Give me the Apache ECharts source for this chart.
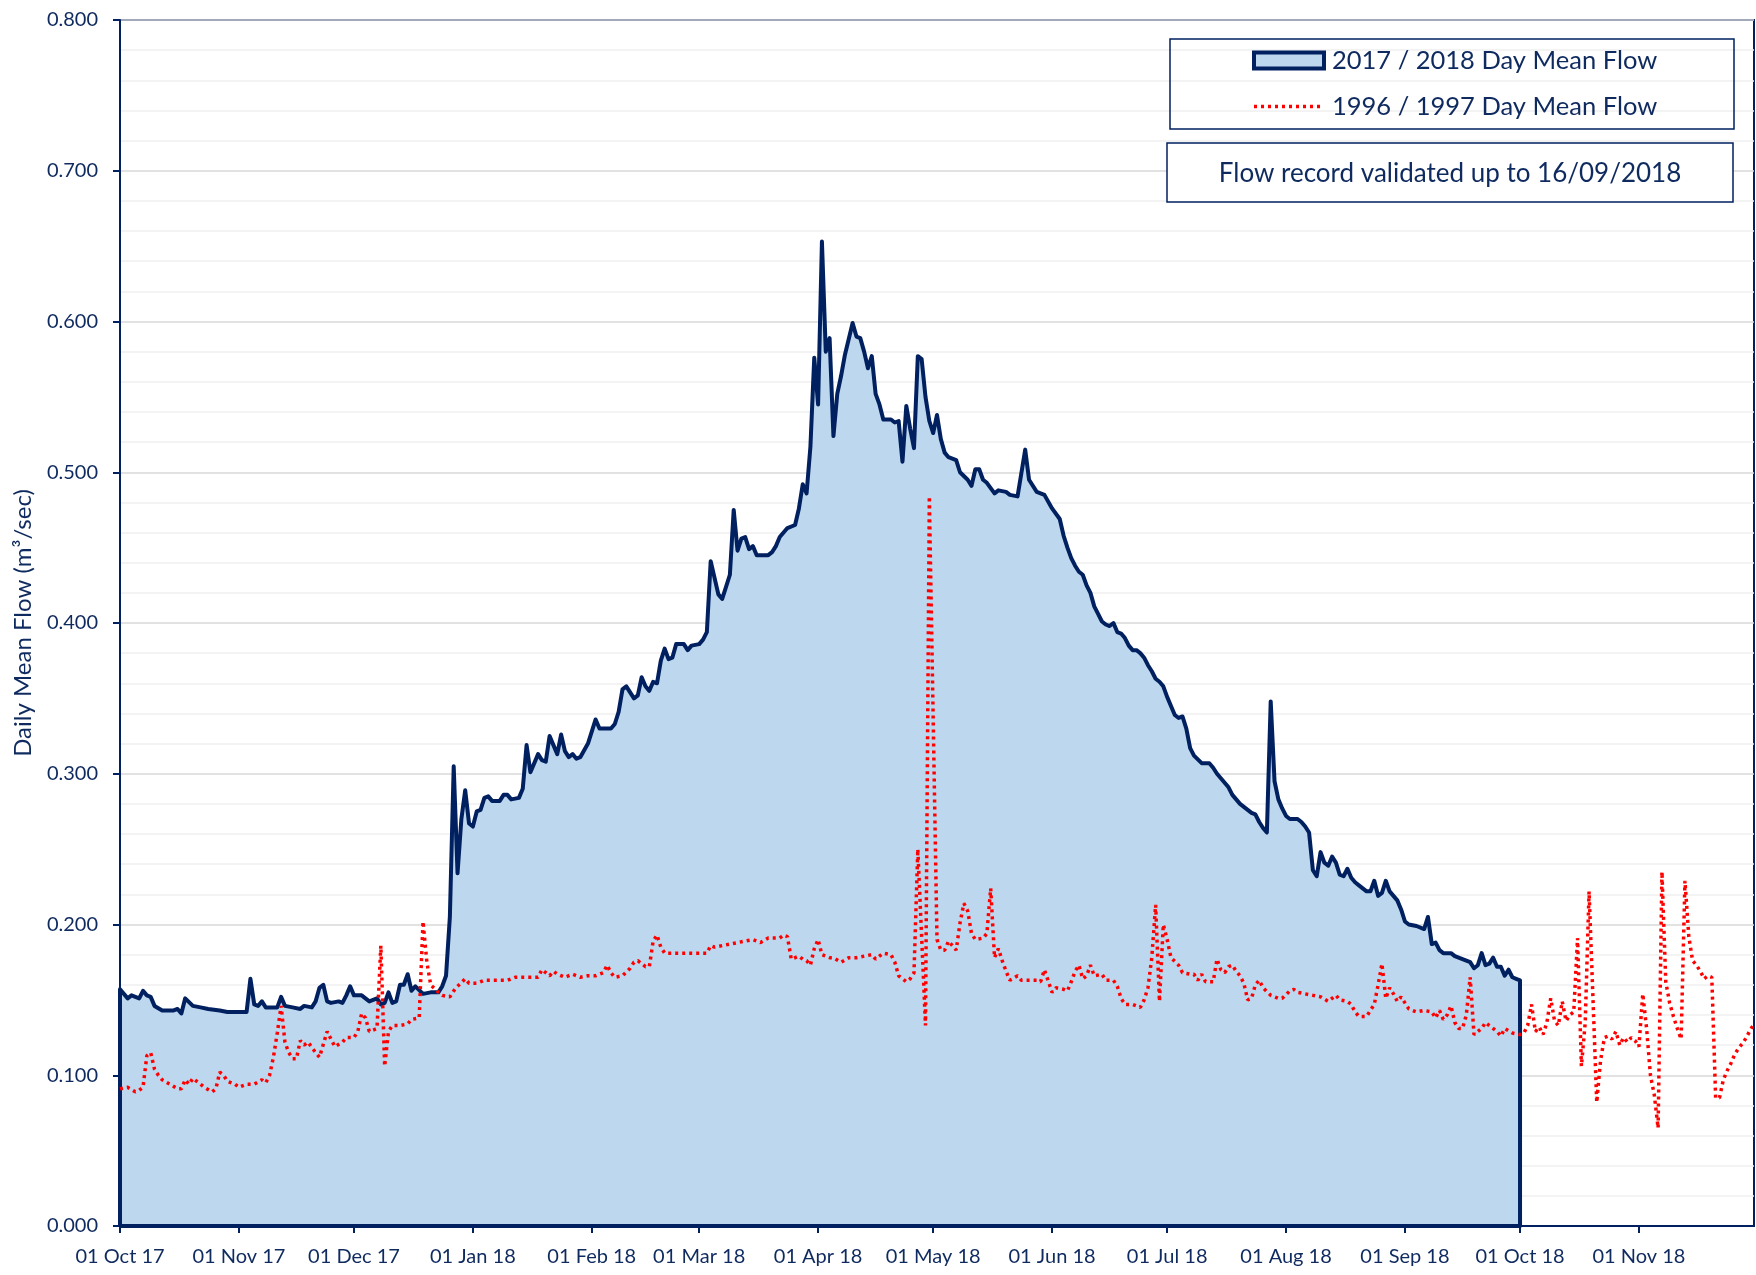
<!DOCTYPE html>
<html>
<head>
<meta charset="utf-8">
<script src="https://cdn.jsdelivr.net/npm/echarts@6/dist/echarts.min.js"></script>
<style>
html,body{margin:0;padding:0;background:#ffffff;}
#chart{width:1756px;height:1275px;}
</style>
</head>
<body>
<div id="chart"></div>
<script>
// ---------- DATA ----------
const startDate = '2017-10-01';
const endDate = '2018-12-01';

const tickDates = ['2017-10-01','2017-11-01','2017-12-01','2018-01-01','2018-02-01','2018-03-01','2018-04-01',
  '2018-05-01','2018-06-01','2018-07-01','2018-08-01','2018-09-01','2018-10-01','2018-11-01'];
const tickLabels = ['01 Oct 17','01 Nov 17','01 Dec 17','01 Jan 18','01 Feb 18','01 Mar 18','01 Apr 18',
  '01 May 18','01 Jun 18','01 Jul 18','01 Aug 18','01 Sep 18','01 Oct 18','01 Nov 18'];

// 2017 / 2018 day mean flow: day offset from 01 Oct 2017, value (m3/sec)
const flow2018Days = [
  0,2,3,5,6,7,8,9,11,14,
  15,16,17,19,21,23,26,28,33,34,
  35,36,37,38,41,42,43,45,47,48,
  50,51,52,53,54,55,57,58,59,60,
  61,63,65,67,68,69,70,71,72,73,
  74,75,76,77,79,81,83,84,85,86,
  87,88,89,90,91,92,93,94,95,96,
  97,99,100,101,102,104,105,106,107,109,
  110,111,112,113,114,115,116,117,118,119,
  120,122,124,125,128,129,130,131,132,134,
  135,136,137,138,139,140,141,142,143,144,
  145,147,148,149,151,152,153,154,156,157,
  158,159,160,161,162,163,164,165,166,169,
  170,171,172,174,176,177,178,179,180,181,
  182,183,184,185,186,187,188,189,191,192,
  193,194,195,196,197,198,199,201,202,203,
  204,205,206,207,208,209,210,211,212,213,
  214,215,216,218,219,221,222,223,224,225,
  226,228,229,231,232,234,236,237,239,241,
  243,245,246,247,248,249,250,251,252,253,
  254,255,256,257,258,259,260,261,262,263,
  264,265,266,267,268,269,270,271,272,273,
  274,275,276,277,278,279,280,282,284,285,
  286,287,288,289,290,291,292,293,294,295,
  296,297,298,299,300,301,302,303,304,305,
  306,307,308,309,310,311,312,313,314,315,
  316,317,318,319,320,321,322,323,324,325,
  326,327,328,329,330,331,332,333,334,335,
  336,338,340,341,342,343,344,345,347,348,
  349,350,352,353,354,355,356,357,358,359,
  360,361,362,363,364,365
];
const flow2018Values = [
  .157,.151,.153,.151,.156,.153,.152,.146,.143,.143,
  .144,.141,.151,.146,.145,.144,.143,.142,.142,.164,
  .147,.146,.149,.145,.145,.152,.146,.145,.144,.146,
  .145,.149,.158,.160,.149,.148,.149,.148,.153,.159,
  .153,.153,.149,.151,.147,.148,.155,.148,.149,.160,
  .160,.167,.156,.159,.154,.155,.155,.159,.166,.205,
  .305,.234,.270,.289,.267,.265,.275,.276,.284,.285,
  .282,.282,.286,.286,.283,.284,.290,.319,.301,.313,
  .309,.308,.325,.319,.313,.326,.315,.311,.313,.310,
  .311,.320,.336,.330,.330,.333,.341,.356,.358,.350,
  .352,.364,.358,.355,.361,.360,.375,.383,.376,.377,
  .386,.386,.382,.385,.386,.389,.394,.441,.419,.416,
  .424,.432,.475,.448,.456,.457,.449,.451,.445,.445,
  .447,.451,.457,.463,.465,.476,.492,.486,.517,.576,
  .545,.653,.580,.589,.524,.552,.564,.578,.599,.590,
  .589,.580,.569,.577,.552,.545,.535,.535,.533,.534,
  .507,.544,.529,.516,.577,.575,.550,.534,.526,.538,
  .522,.513,.510,.508,.500,.495,.491,.502,.502,.495,
  .493,.486,.488,.487,.485,.484,.515,.495,.487,.485,
  .476,.469,.458,.450,.443,.438,.434,.432,.425,.420,
  .411,.406,.401,.399,.398,.400,.394,.393,.390,.385,
  .382,.382,.380,.377,.372,.368,.363,.361,.358,.351,
  .345,.339,.337,.338,.330,.317,.312,.307,.307,.304,
  .300,.297,.294,.291,.286,.283,.280,.278,.276,.274,
  .273,.268,.264,.261,.348,.295,.283,.277,.272,.270,
  .270,.270,.268,.265,.261,.236,.232,.248,.241,.239,
  .245,.241,.233,.232,.237,.231,.228,.226,.224,.222,
  .222,.229,.219,.221,.229,.222,.219,.216,.210,.202,
  .200,.199,.197,.205,.187,.188,.183,.181,.181,.179,
  .178,.177,.175,.171,.173,.181,.173,.174,.178,.172,
  .172,.166,.170,.165,.164,.163
];

// 1996 / 1997 day mean flow: day offset from 01 Oct, value (m3/sec)
const flow1997Days = [
  0,2,4,5,6,7,8,9,10,11,
  13,15,16,17,18,19,21,22,24,25,
  26,27,28,30,31,33,35,37,38,39,
  40,41,42,43,44,45,46,47,48,49,
  51,52,54,55,56,58,59,60,61,62,
  63,64,65,67,68,69,70,71,73,75,
  76,78,79,80,81,83,84,86,87,88,
  90,91,93,95,97,99,101,103,105,107,
  109,110,112,113,114,116,118,120,122,124,
  126,127,128,129,131,133,134,135,137,138,
  139,140,141,142,144,147,149,151,153,154,
  155,157,159,161,163,165,167,169,172,173,
  174,175,177,178,179,180,181,182,183,185,
  186,188,190,192,194,196,197,199,201,202,
  203,205,206,207,208,210,211,213,214,215,
  216,217,218,219,220,221,222,223,225,226,
  227,228,229,230,231,232,234,235,237,239,
  240,241,243,244,246,247,248,249,250,251,
  252,253,254,256,257,259,260,261,262,264,
  266,267,268,269,270,271,272,273,274,276,
  277,279,280,281,282,283,285,286,287,288,
  289,290,291,292,293,294,295,296,297,298,
  300,302,303,305,306,307,309,311,313,315,
  317,318,320,321,322,323,325,326,327,328,
  329,330,331,332,333,334,335,336,338,340,
  342,343,344,345,346,347,348,349,350,351,
  352,353,355,356,357,359,360,361,363,365,
  366,367,368,369,370,371,372,373,374,375,
  376,377,378,379,380,381,382,383,385,386,
  387,388,389,390,391,392,393,394,395,396,
  397,398,399,400,401,402,403,404,405,406,
  407,408,409,410,411,412,413,414,415,416,
  417,418,419,420,421,422,423,424,425,426
];
const flow1997Values = [
  .091,.092,.089,.090,.092,.113,.115,.104,.100,.097,
  .094,.091,.091,.097,.094,.098,.094,.092,.089,.091,
  .102,.100,.096,.094,.092,.094,.094,.097,.095,.100,
  .112,.128,.146,.122,.115,.111,.111,.123,.120,.122,
  .115,.112,.129,.124,.119,.122,.125,.125,.125,.129,
  .141,.138,.129,.131,.186,.106,.129,.133,.133,.134,
  .137,.138,.202,.175,.160,.155,.153,.152,.156,.159,
  .164,.161,.161,.163,.163,.163,.163,.165,.165,.165,
  .165,.170,.166,.169,.167,.165,.167,.165,.166,.166,
  .168,.173,.168,.165,.166,.171,.175,.176,.172,.172,
  .189,.193,.185,.181,.181,.181,.181,.181,.181,.186,
  .185,.186,.187,.188,.189,.190,.188,.191,.191,.193,
  .192,.177,.179,.177,.176,.173,.184,.190,.180,.178,
  .178,.175,.178,.178,.179,.180,.177,.181,.180,.175,
  .166,.162,.164,.168,.250,.133,.484,.190,.183,.183,
  .189,.186,.183,.201,.214,.209,.194,.190,.191,.194,
  .224,.178,.184,.176,.169,.163,.166,.163,.163,.163,
  .162,.170,.155,.158,.157,.156,.162,.169,.173,.164,
  .166,.173,.166,.167,.163,.163,.159,.151,.147,.147,
  .145,.150,.158,.178,.213,.149,.200,.190,.178,.173,
  .168,.167,.167,.163,.167,.162,.162,.177,.170,.168,
  .172,.173,.169,.166,.161,.150,.151,.160,.163,.158,
  .153,.151,.151,.156,.157,.155,.154,.153,.152,.149,
  .153,.150,.149,.147,.142,.139,.139,.143,.147,.160,
  .174,.151,.158,.154,.149,.152,.148,.144,.142,.143,
  .142,.138,.143,.137,.140,.146,.135,.131,.131,.140,
  .165,.127,.131,.135,.133,.129,.126,.131,.128,.127,
  .128,.133,.147,.129,.132,.127,.135,.151,.136,.133,
  .149,.136,.140,.142,.191,.106,.135,.222,.082,.110,
  .125,.126,.124,.129,.120,.125,.122,.125,.123,.119,
  .154,.131,.100,.087,.065,.235,.162,.148,.139,.131,
  .124,.229,.192,.176,.173,.169,.164,.166,.165,.085,
  .085,.097,.103,.108,.114,.118,.121,.125,.130,.134
];

const seriesNames = ['2017 / 2018 Day Mean Flow', '1996 / 1997 Day Mean Flow'];
const yAxisTitle = 'Daily Mean Flow (m\u00B3/sec)';
const noteText = 'Flow record validated up to 16/09/2018';

// ---------- BUILD ----------
const DAY = 86400000;
const t0 = Date.parse(startDate);
const tEnd = Date.parse(endDate);
const tickTimes = tickDates.map(d => Date.parse(d));
const toPairs = (days, vals) => days.map((d, i) => [t0 + d * DAY, vals[i]]);
const blue = toPairs(flow2018Days, flow2018Values);
const red = toPairs(flow1997Days, flow1997Values);
// closed outline of the filled area (down to zero at both ends)
const blueOutline = [[blue[0][0], 0]].concat(blue, [[blue[blue.length - 1][0], 0], [blue[0][0], 0]]);

const NAVY = '#0F2A5F';
const LINE_NAVY = '#002060';
const FONT = 'Lato, "Open Sans", sans-serif';
const RED_DASH = [3, 4];

const chart = echarts.init(document.getElementById('chart'), null, { renderer: 'canvas' });
chart.setOption({
  animation: false,
  backgroundColor: '#ffffff',
  grid: {
    left: 120, right: 2, top: 20, bottom: 49,
    show: true, borderColor: LINE_NAVY, borderWidth: 2, backgroundColor: 'transparent'
  },
  legend: {
    orient: 'vertical',
    left: 1252, top: 45,
    padding: 0,
    itemWidth: 70, itemHeight: 16, itemGap: 15,
    textStyle: { fontFamily: FONT, fontSize: 25.5, color: NAVY, lineHeight: 31, padding: [0, 0, 0, 3] },
    data: [
      { name: seriesNames[0], icon: 'rect',
        itemStyle: { color: '#BDD7EE', borderColor: LINE_NAVY, borderWidth: 4 } },
      { name: seriesNames[1], itemStyle: { opacity: 0 },
        lineStyle: { color: '#FF0000', width: 3.5, type: RED_DASH, opacity: 1 } }
    ]
  },
  graphic: [
    { type: 'rect', shape: { x: 1170, y: 39, width: 564, height: 90 },
      style: { fill: 'none', stroke: LINE_NAVY, lineWidth: 1.5 }, z: 10 },
    { type: 'rect', shape: { x: 1167, y: 143, width: 566, height: 59 },
      style: { fill: '#ffffff', stroke: LINE_NAVY, lineWidth: 1.5 }, z: 10 },
    { type: 'text', x: 1450, y: 174, z: 11,
      style: { text: noteText, fill: NAVY, font: '26px ' + FONT, align: 'center', verticalAlign: 'middle' } }
  ],
  xAxis: {
    type: 'value',
    min: t0, max: tEnd,
    axisLine: { show: true, lineStyle: { color: LINE_NAVY, width: 2 } },
    axisTick: { show: true, length: 7, lineStyle: { color: LINE_NAVY, width: 2 }, customValues: tickTimes },
    axisLabel: {
      customValues: tickTimes,
      color: NAVY, fontFamily: FONT, fontSize: 20, margin: 21,
      formatter: function (v) { const i = tickTimes.indexOf(v); return i >= 0 ? tickLabels[i] : ''; }
    },
    splitLine: { show: false }
  },
  yAxis: {
    type: 'value',
    min: 0, max: 0.8, interval: 0.1,
    name: yAxisTitle,
    nameLocation: 'middle',
    nameGap: 85,
    nameRotate: 90,
    nameTextStyle: { color: NAVY, fontFamily: FONT, fontSize: 24 },
    axisLine: { show: true, lineStyle: { color: LINE_NAVY, width: 2 } },
    axisTick: { show: true, length: 7, lineStyle: { color: LINE_NAVY, width: 2 } },
    axisLabel: { color: NAVY, fontFamily: FONT, fontSize: 20, margin: 22,
      formatter: v => v.toFixed(3) },
    splitLine: { show: true, lineStyle: { color: '#D9D9D9', width: 1.5 } },
    minorTick: { show: false, splitNumber: 5 },
    minorSplitLine: { show: true, lineStyle: { color: '#EFEFEF', width: 1.5 } }
  },
  series: [
    {
      name: seriesNames[0], type: 'line', data: blueOutline, symbol: 'none', clip: false,
      lineStyle: { color: LINE_NAVY, width: 4, join: 'round' },
      itemStyle: { color: '#BDD7EE', borderColor: LINE_NAVY },
      areaStyle: { color: '#BDD7EE', opacity: 1 },
      z: 2
    },
    {
      name: seriesNames[1], type: 'line', data: red, symbol: 'none',
      lineStyle: { color: '#FF0000', width: 3.5, type: RED_DASH },
      itemStyle: { color: '#FF0000' },
      z: 3
    }
  ]
});
</script>
</body>
</html>
